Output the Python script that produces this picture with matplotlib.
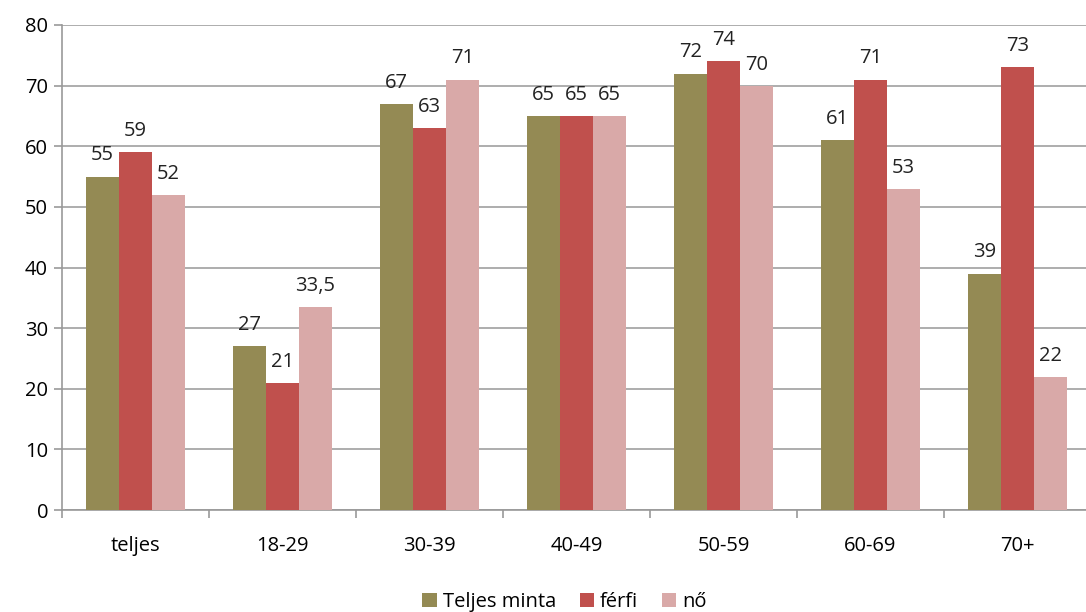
import numpy as np
import matplotlib.pyplot as plt

# Kategóriák és értékek
categories = ['teljes', '18-29', '30-39', '40-49', '50-59', '60-69', '70+']
teljes_minta = [55, 27, 67, 65, 72, 61, 39]
ferfi = [59, 21, 63, 65, 74, 71, 73]
no = [52, 33.5, 71, 65, 70, 53, 22]
series_names = ['Teljes minta', 'férfi', 'nő']
colors = ['#948A54', '#C0504D', '#D9A9A8']

plt.rcParams['font.family'] = ['Open Sans', 'DejaVu Sans']
fs = 14.5

fig = plt.figure(figsize=(10.86, 6.12), dpi=100)
ax = fig.add_axes([62 / 1086, 1 - 510 / 612, 1029 / 1086, 485 / 612])

x = np.arange(len(categories))
w = 0.2245
for i, (vals, name, col) in enumerate(zip([teljes_minta, ferfi, no], series_names, colors)):
    pos = x + (i - 1) * w
    ax.bar(pos, vals, width=w, color=col, label=name, zorder=3)
    for p, v in zip(pos, vals):
        txt = str(v).replace('.', ',')
        ax.annotate(txt, (p, v), xytext=(0, 8), textcoords='offset points',
                    ha='center', va='bottom', fontsize=fs, color='#222222')

ax.set_xlim(-0.5, len(categories) - 0.5)
ax.set_ylim(0, 80)
ax.set_yticks(range(0, 81, 10))
ax.set_xticks(x)
ax.set_xticklabels(categories)
ax.set_xticks(np.arange(-0.5, len(categories), 1), minor=True)
ax.tick_params(axis='x', which='major', length=0, pad=19, labelsize=fs)
ax.tick_params(axis='x', which='minor', length=6, color='#999999', width=1.2)
ax.tick_params(axis='y', length=6, color='#999999', width=1.2, labelsize=fs, pad=4)

ax.grid(axis='y', color='#A0A0A0', linewidth=1.2, zorder=0)
for s in ['top', 'right']:
    ax.spines[s].set_visible(False)
for s in ['left', 'bottom']:
    ax.spines[s].set_color('#999999')
    ax.spines[s].set_linewidth(1.2)

fig.legend(loc='lower center', bbox_to_anchor=(0.52, -0.03), ncol=3, frameon=False,
           fontsize=fs, handlelength=0.7, handleheight=0.7, handletextpad=0.3,
           columnspacing=1.2)

fig.savefig('out.png', dpi=100)
